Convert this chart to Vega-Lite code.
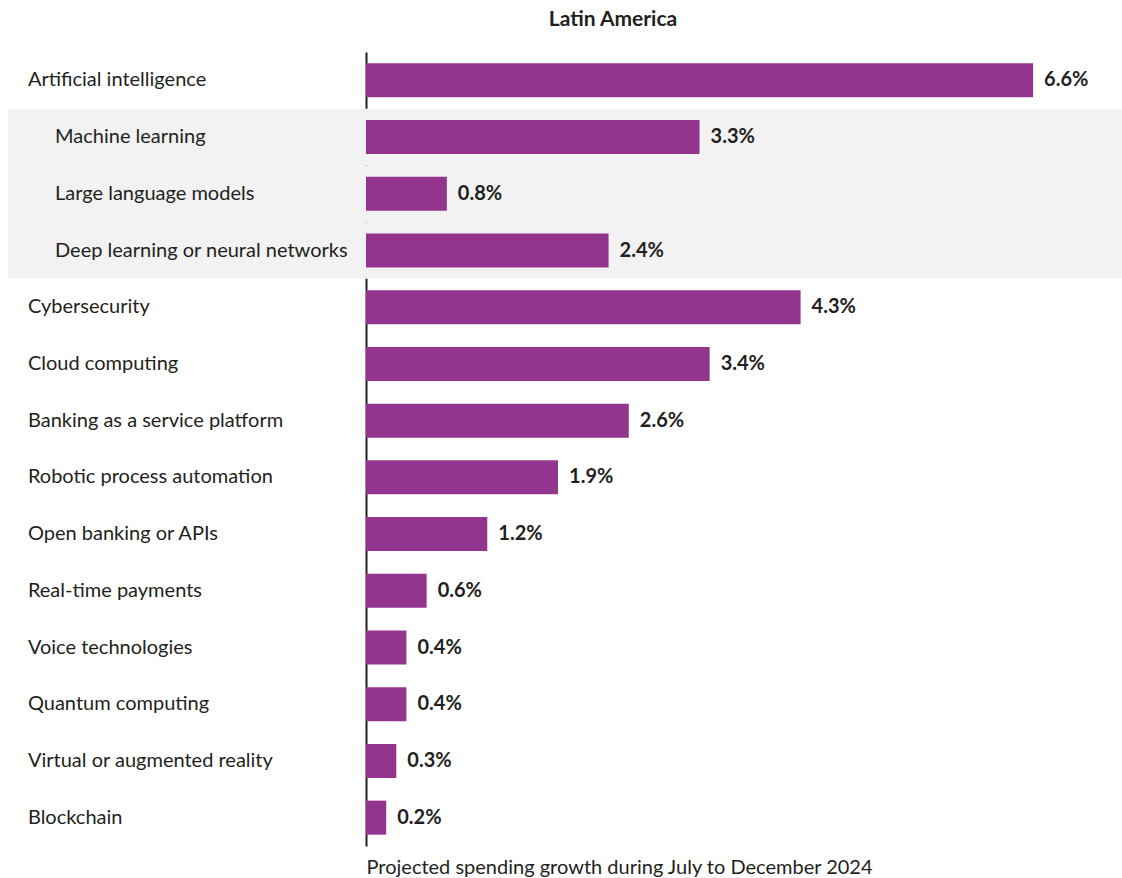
{
  "$schema": "https://vega.github.io/schema/vega-lite/v6.json",
  "width": 756,
  "height": 794,
  "autosize": {"type": "none"},
  "padding": {"left": 366, "top": 52, "right": 0, "bottom": 32},
  "background": "white",
  "title": {
    "text": "Latin America",
    "anchor": "middle",
    "dx": -131,
    "offset": 22,
    "fontSize": 21,
    "fontWeight": "bold",
    "font": "Lato",
    "color": "#231f20"
  },
  "data": {
    "values": [
      {"label": "Artificial intelligence", "value": 6.6, "level": "main"},
      {"label": "Machine learning", "value": 3.3, "level": "sub"},
      {"label": "Large language models", "value": 0.8, "level": "sub"},
      {"label": "Deep learning or neural networks", "value": 2.4, "level": "sub"},
      {"label": "Cybersecurity", "value": 4.3, "level": "main"},
      {"label": "Cloud computing", "value": 3.4, "level": "main"},
      {"label": "Banking as a service platform", "value": 2.6, "level": "main"},
      {"label": "Robotic process automation", "value": 1.9, "level": "main"},
      {"label": "Open banking or APIs", "value": 1.2, "level": "main"},
      {"label": "Real-time payments", "value": 0.6, "level": "main"},
      {"label": "Voice technologies", "value": 0.4, "level": "main"},
      {"label": "Quantum computing", "value": 0.4, "level": "main"},
      {"label": "Virtual or augmented reality", "value": 0.3, "level": "main"},
      {"label": "Blockchain", "value": 0.2, "level": "main"}
    ]
  },
  "config": {
    "view": {"stroke": null},
    "font": "Lato",
    "axisX": {"labels": false, "ticks": false, "domain": false, "grid": false, "titleFontSize": 20, "titleFontWeight": "normal", "titleColor": "#231f20", "titleAnchor": "start", "titleAlign": "left", "titlePadding": 11, "titleFont": "Lato"},
    "axisY": {"labels": false, "ticks": false, "grid": false, "domain": true, "domainColor": "#231f20", "domainWidth": 2, "title": null}
  },
  "resolve": {"scale": {"y": "independent"}},
  "layer": [
    {
      "transform": [{"filter": "datum.level == 'sub'"}],
      "mark": {"type": "rect", "color": "#f2f2f2"},
      "encoding": {
        "y": {"field": "label", "type": "nominal", "sort": null, "axis": null,
          "scale": {"domain": ["Artificial intelligence","Machine learning","Large language models","Deep learning or neural networks","Cybersecurity","Cloud computing","Banking as a service platform","Robotic process automation","Open banking or APIs","Real-time payments","Voice technologies","Quantum computing","Virtual or augmented reality","Blockchain"], "paddingInner": 0, "paddingOuter": 0}},
        "x": {"datum": -3.542, "type": "quantitative", "scale": {"domain": [0, 7.48], "nice": false, "clamp": false}, "title": "Projected spending growth during July to December 2024"},
        "x2": {"datum": 7.48}
      }
    },
    {
      "mark": {"type": "bar", "color": "#93358f"},
      "encoding": {
        "y": {"field": "label", "type": "nominal", "sort": null,
          "scale": {"paddingInner": 0.4, "paddingOuter": 0.2}},
        "x": {"field": "value", "type": "quantitative", "scale": {"domain": [0, 7.48], "nice": false, "clamp": false}, "title": "Projected spending growth during July to December 2024"}
      }
    },
    {
      "transform": [{"calculate": "format(datum.value, '.1f') + '%'", "as": "txt"}],
      "mark": {"type": "text", "align": "left", "baseline": "middle", "dx": 11, "fontSize": 20, "fontWeight": "bold", "color": "#231f20"},
      "encoding": {
        "y": {"field": "label", "type": "nominal", "sort": null, "axis": null,
          "scale": {"paddingInner": 0.4, "paddingOuter": 0.2}},
        "x": {"field": "value", "type": "quantitative", "scale": {"domain": [0, 7.48], "nice": false, "clamp": false}, "title": "Projected spending growth during July to December 2024"},
        "text": {"field": "txt"}
      }
    },
    {
      "transform": [{"filter": "datum.level == 'main'"}],
      "mark": {"type": "text", "align": "left", "baseline": "middle", "fontSize": 20, "color": "#231f20"},
      "encoding": {
        "y": {"field": "label", "type": "nominal", "sort": null, "axis": null,
          "scale": {"domain": ["Artificial intelligence","Machine learning","Large language models","Deep learning or neural networks","Cybersecurity","Cloud computing","Banking as a service platform","Robotic process automation","Open banking or APIs","Real-time payments","Voice technologies","Quantum computing","Virtual or augmented reality","Blockchain"], "paddingInner": 0.4, "paddingOuter": 0.2}},
        "x": {"datum": -3.345, "type": "quantitative", "scale": {"domain": [0, 7.48], "nice": false, "clamp": false}, "title": "Projected spending growth during July to December 2024"},
        "text": {"field": "label"}
      }
    },
    {
      "transform": [{"filter": "datum.level == 'sub'"}],
      "mark": {"type": "text", "align": "left", "baseline": "middle", "fontSize": 20, "color": "#231f20"},
      "encoding": {
        "y": {"field": "label", "type": "nominal", "sort": null, "axis": null,
          "scale": {"domain": ["Artificial intelligence","Machine learning","Large language models","Deep learning or neural networks","Cybersecurity","Cloud computing","Banking as a service platform","Robotic process automation","Open banking or APIs","Real-time payments","Voice technologies","Quantum computing","Virtual or augmented reality","Blockchain"], "paddingInner": 0.4, "paddingOuter": 0.2}},
        "x": {"datum": -3.077, "type": "quantitative", "scale": {"domain": [0, 7.48], "nice": false, "clamp": false}, "title": "Projected spending growth during July to December 2024"},
        "text": {"field": "label"}
      }
    }
  ]
}
